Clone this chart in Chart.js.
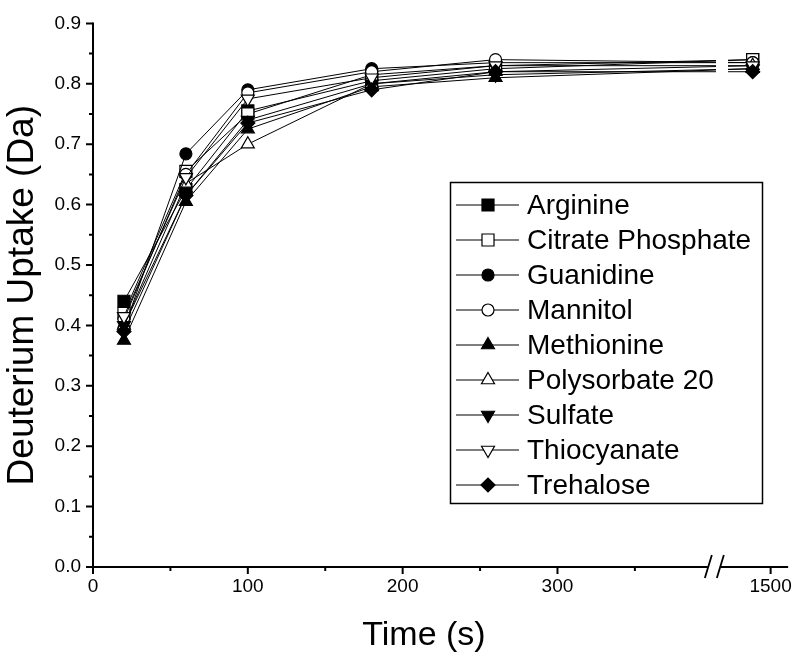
<!DOCTYPE html>
<html>
<head>
<meta charset="utf-8">
<script src="https://cdn.jsdelivr.net/npm/chart.js@4.4.0/dist/chart.umd.min.js"></script>
<style>
  html, body { margin: 0; padding: 0; background: #fff; }
  #wrap { width: 800px; height: 661px; }
</style>
</head>
<body>
<div id="wrap"><canvas id="myChart" width="800" height="661"></canvas></div>
<script>
// --------------
// DATA
// --------------
const times = [20, 60, 100, 180, 260, 1440];

const seriesNames = ["Arginine", "Citrate Phosphate", "Guanidine", "Mannitol", "Methionine",
                     "Polysorbate 20", "Sulfate", "Thiocyanate", "Trehalose"];

const arginine    = [0.440, 0.625, 0.755, 0.805, 0.825, 0.840];
const citrate     = [0.420, 0.655, 0.750, 0.815, 0.830, 0.840];
const guanidine   = [0.395, 0.684, 0.790, 0.825, 0.835, 0.835];
const mannitol    = [0.410, 0.650, 0.785, 0.820, 0.840, 0.835];
const methionine  = [0.375, 0.605, 0.725, 0.795, 0.810, 0.825];
const polysorbate = [0.400, 0.635, 0.700, 0.800, 0.820, 0.830];
const sulfate     = [0.400, 0.615, 0.740, 0.800, 0.815, 0.825];
const thiocyanate = [0.415, 0.645, 0.775, 0.810, 0.830, 0.830];
const trehalose   = [0.390, 0.615, 0.735, 0.790, 0.820, 0.820];

const xTickLabels = [0, 100, 200, 300, 1500];
const xMinorTicks = [50, 150, 250, 350];
const yTickLabels = [0.0, 0.1, 0.2, 0.3, 0.4, 0.5, 0.6, 0.7, 0.8, 0.9];
const yMinorTicks = [0.05, 0.15, 0.25, 0.35, 0.45, 0.55, 0.65, 0.75, 0.85];

// --------------
// BROKEN X AXIS
// --------------
// left piece is plain seconds, right piece (after the //) is squeezed
const BREAK_AT = 401;     // axis units where the break sits
const SEG2_T0 = 1310;     // time at the break on the right piece
const SEG2_K = 0.193;     // axis units per second after the break
const X_MAX = 449;

function toAxis(t) {
  return t <= 400 ? t : BREAK_AT + (t - SEG2_T0) * SEG2_K;
}

const FONT = '"Liberation Sans", Arial, sans-serif';

// marker look per series (same order as seriesNames)
const styles = [
  { pointStyle: 'rect',     fill: '#000', radius: 8.5, rotation: 0 },
  { pointStyle: 'rect',     fill: '#fff', radius: 8.5, rotation: 0 },
  { pointStyle: 'circle',   fill: '#000', radius: 6,   rotation: 0 },
  { pointStyle: 'circle',   fill: '#fff', radius: 6,   rotation: 0 },
  { pointStyle: 'triangle', fill: '#000', radius: 7.5, rotation: 0 },
  { pointStyle: 'triangle', fill: '#fff', radius: 7.5, rotation: 0 },
  { pointStyle: 'triangle', fill: '#000', radius: 7.5, rotation: 180 },
  { pointStyle: 'triangle', fill: '#fff', radius: 7.5, rotation: 180 },
  { pointStyle: 'rectRot',  fill: '#000', radius: 7,   rotation: 0 }
];

const allValues = [arginine, citrate, guanidine, mannitol, methionine,
                   polysorbate, sulfate, thiocyanate, trehalose];

const datasets = allValues.map((vals, i) => ({
  label: seriesNames[i],
  data: times.map((t, j) => ({ x: toAxis(t), y: vals[j] })),
  showLine: true,
  borderColor: '#000',
  borderWidth: 1,
  pointStyle: styles[i].pointStyle,
  pointRotation: styles[i].rotation,
  pointRadius: styles[i].radius,
  pointBackgroundColor: styles[i].fill,
  pointBorderColor: '#000',
  pointBorderWidth: 1.2,
  order: allValues.length - i
}));

// --------------
// PLUGINS
// --------------
const gapPx = { from: 716, to: 728 };

// cut the connecting lines where the axis breaks
const gapClip = {
  id: 'gapClip',
  beforeDatasetsDraw(chart) {
    const { ctx } = chart;
    ctx.save();
    ctx.beginPath();
    ctx.rect(0, 0, gapPx.from, chart.height);
    ctx.rect(gapPx.to, 0, chart.width - gapPx.to, chart.height);
    ctx.clip();
  },
  afterDatasetsDraw(chart) {
    chart.ctx.restore();
  }
};

// axis lines, outward ticks, the // break and the x title
const axesDraw = {
  id: 'axesDraw',
  afterDraw(chart) {
    const { ctx, chartArea: a, scales: { x, y } } = chart;
    ctx.save();
    ctx.strokeStyle = '#000';
    ctx.lineWidth = 2;
    ctx.lineCap = 'butt';

    // y axis
    ctx.beginPath();
    ctx.moveTo(a.left, a.top - 1);
    ctx.lineTo(a.left, a.bottom + 1);
    ctx.stroke();

    // x axis in two pieces
    const bx = x.getPixelForValue(BREAK_AT);
    ctx.beginPath();
    ctx.moveTo(a.left - 1, a.bottom);
    ctx.lineTo(bx - 6, a.bottom);
    ctx.moveTo(bx + 7, a.bottom);
    ctx.lineTo(a.right, a.bottom);
    ctx.stroke();

    // break marks
    ctx.lineWidth = 1.8;
    ctx.beginPath();
    ctx.moveTo(bx - 9, a.bottom + 11);
    ctx.lineTo(bx - 2, a.bottom - 12);
    ctx.moveTo(bx + 3, a.bottom + 11);
    ctx.lineTo(bx + 10, a.bottom - 12);
    ctx.stroke();

    // ticks
    ctx.lineWidth = 2;
    ctx.beginPath();
    yTickLabels.forEach(v => {
      const py = y.getPixelForValue(v);
      ctx.moveTo(a.left, py); ctx.lineTo(a.left - 7, py);
    });
    yMinorTicks.forEach(v => {
      const py = y.getPixelForValue(v);
      ctx.moveTo(a.left, py); ctx.lineTo(a.left - 4, py);
    });
    xTickLabels.forEach(t => {
      const px = x.getPixelForValue(toAxis(t));
      ctx.moveTo(px, a.bottom); ctx.lineTo(px, a.bottom + 7);
    });
    xMinorTicks.forEach(t => {
      const px = x.getPixelForValue(toAxis(t));
      ctx.moveTo(px, a.bottom); ctx.lineTo(px, a.bottom + 4);
    });
    ctx.stroke();

    // x title, sits a bit left of the plot centre like the original
    ctx.fillStyle = '#000';
    ctx.font = '34px ' + FONT;
    ctx.textAlign = 'center';
    ctx.textBaseline = 'middle';
    ctx.fillText('Time (s)', 424, 636);
    ctx.restore();
  }
};

// boxed legend inside the plot
const boxLegend = {
  id: 'boxLegend',
  afterDraw(chart) {
    const { ctx } = chart;
    const box = { x: 450.5, y: 182.5, w: 312, h: 321 };
    ctx.save();
    ctx.fillStyle = '#fff';
    ctx.fillRect(box.x, box.y, box.w, box.h);
    ctx.strokeStyle = '#000';
    ctx.lineWidth = 1.5;
    ctx.strokeRect(box.x, box.y, box.w, box.h);

    ctx.font = '28px ' + FONT;
    ctx.textBaseline = 'middle';
    seriesNames.forEach((name, i) => {
      const ry = 205 + i * 35;
      ctx.strokeStyle = '#000';
      ctx.lineWidth = 1.2;
      ctx.beginPath();
      ctx.moveTo(456, ry);
      ctx.lineTo(519, ry);
      ctx.stroke();

      ctx.fillStyle = styles[i].fill;
      Chart.helpers.drawPoint(ctx, {
        pointStyle: styles[i].pointStyle,
        rotation: styles[i].rotation,
        radius: styles[i].radius,
        borderWidth: 1.2
      }, 488, ry);

      ctx.fillStyle = '#000';
      ctx.fillText(name, 527, ry + 1);
    });
    ctx.restore();
  }
};

// --------------
// CHART
// --------------
const ctx = document.getElementById('myChart').getContext('2d');

const chart = new Chart(ctx, {
  type: 'scatter',
  data: { datasets },
  options: {
    responsive: false,
    animation: false,
    layout: { padding: { top: 12, right: 7, left: 0, bottom: 0 } },
    plugins: {
      legend: { display: false },
      tooltip: { enabled: false }
    },
    scales: {
      x: {
        type: 'linear',
        min: 0,
        max: X_MAX,
        grid: { display: false, drawTicks: false },
        border: { display: false },
        afterBuildTicks: scale => {
          scale.ticks = xTickLabels.map(t => ({ value: toAxis(t) }));
        },
        afterFit: scale => { scale.height = 94; },
        ticks: {
          autoSkip: false,
          maxRotation: 0,
          padding: 8,
          color: '#000',
          font: { family: FONT, size: 19 },
          callback: (value, index) => String(xTickLabels[index])
        },
        title: { display: false }
      },
      y: {
        min: 0,
        max: 0.9,
        grid: { display: false, drawTicks: false },
        border: { display: false },
        afterBuildTicks: scale => {
          scale.ticks = yTickLabels.map(v => ({ value: v }));
        },
        afterFit: scale => { scale.width = 93; },
        ticks: {
          autoSkip: false,
          padding: 12,
          color: '#000',
          font: { family: FONT, size: 19 },
          callback: value => value.toFixed(1)
        },
        title: {
          display: true,
          text: 'Deuterium Uptake (Da)',
          color: '#000',
          font: { family: FONT, size: 37 },
          padding: { top: 1, bottom: 0 }
        }
      }
    }
  },
  plugins: [gapClip, axesDraw, boxLegend]
});
</script>
</body>
</html>
